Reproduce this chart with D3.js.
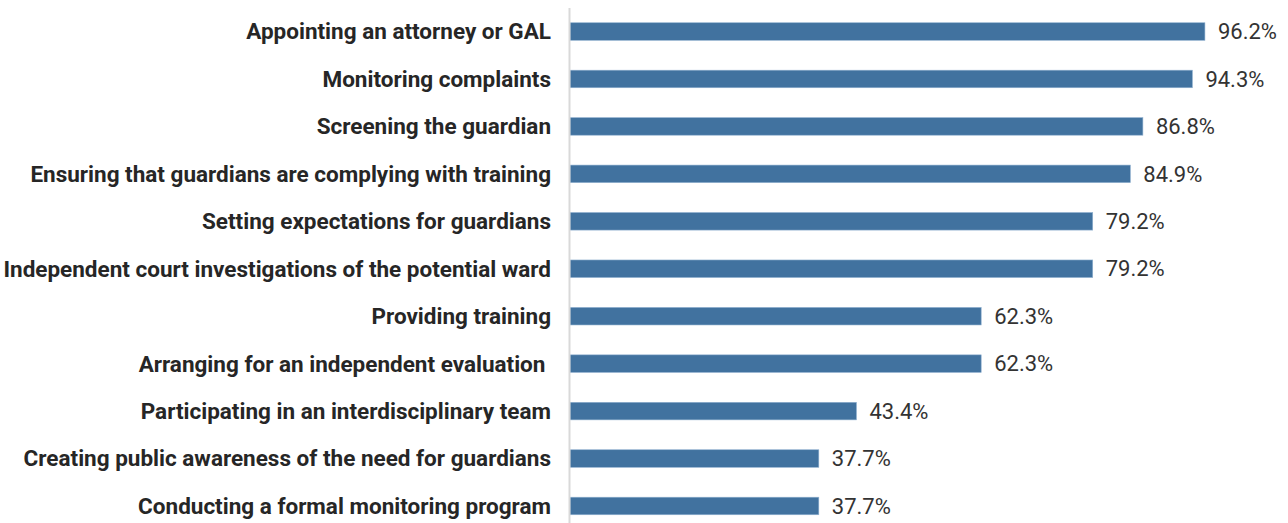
<!DOCTYPE html>
<html>
<head>
<meta charset="utf-8">
<script src="https://cdn.jsdelivr.net/npm/d3@7"></script>
<style>
  body { margin: 0; background: #fff; }
  svg { display: block; }
  text.cat { white-space: pre; }
</style>
</head>
<body>
<div id="chart"></div>
<script>
// Chart data
const categories = [
    "Appointing an attorney or GAL",
    "Monitoring complaints",
    "Screening the guardian",
    "Ensuring that guardians are complying with training",
    "Setting expectations for guardians",
    "Independent court investigations of the potential ward",
    "Providing training",
    "Arranging for an independent evaluation ",
    "Participating in an interdisciplinary team",
    "Creating public awareness of the need for guardians",
    "Conducting a formal monitoring program"
];
const values = [96.2, 94.3, 86.8, 84.9, 79.2, 79.2, 62.3, 62.3, 43.4, 37.7, 37.7];

const width = 1288;
const height = 523;
const axisX = 570;

const svg = d3.select("#chart").append("svg")
    .attr("width", width)
    .attr("height", height);

// Scales
let xScale = d3.scaleLinear()
    .domain([0, 100])
    .range([axisX, axisX + 660]);
let yScale = d3.scaleBand()
    .domain(categories)
    .range([7.8, 529.7])
    .paddingInner(0.63)
    .paddingOuter(0.315);

// Bars
svg.selectAll("rect.bar")
    .data(values)
    .enter().append("rect")
        .attr("class", "bar")
        .attr("x", xScale(0))
        .attr("y", (d, i) => yScale(categories[i]))
        .attr("width", d => xScale(d) - xScale(0))
        .attr("height", yScale.bandwidth())
        .attr("fill", "#41729f")
        .attr("stroke", "#8fb0cf")
        .attr("stroke-width", 0.6);

// Vertical axis line
svg.append("line")
    .attr("x1", axisX - 0.5)
    .attr("x2", axisX - 0.5)
    .attr("y1", 8)
    .attr("y2", height)
    .attr("stroke", "#d9d9d9")
    .attr("stroke-width", 2);

// Category labels
svg.selectAll("text.cat")
    .data(categories)
    .enter().append("text")
        .attr("class", "cat")
        .attr("x", 551)
        .attr("y", d => yScale(d) + yScale.bandwidth() / 2)
        .attr("dy", "0.35em")
        .attr("text-anchor", "end")
        .attr("font-family", "'Liberation Sans Narrow', 'Arial Narrow', 'Roboto', sans-serif")
        .attr("font-weight", "bold")
        .attr("font-size", 22.5)
        .attr("fill", "#262626")
        .text(d => d);

// Value labels
svg.selectAll("text.val")
    .data(values)
    .enter().append("text")
        .attr("class", "val")
        .attr("x", d => xScale(d) + 13)
        .attr("y", (d, i) => yScale(categories[i]) + yScale.bandwidth() / 2)
        .attr("dy", "0.35em")
        .attr("font-family", "'Liberation Sans Narrow', 'Arial Narrow', 'Roboto', sans-serif")
        .attr("font-size", 22)
        .attr("fill", "#333")
        .text(d => d.toFixed(1) + "%");
</script>
</body>
</html>
